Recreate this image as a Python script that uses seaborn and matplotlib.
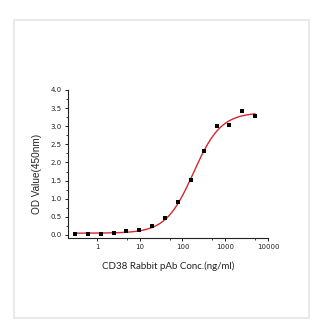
import numpy as np
import pandas as pd
import matplotlib
matplotlib.use("Agg")
import matplotlib.pyplot as plt
import matplotlib.ticker as mticker
from matplotlib.patches import Rectangle
import seaborn as sns

# Data
conc = [0.305, 0.61, 1.22, 2.44, 4.88, 9.77, 19.5, 39.1, 78.1, 156, 312, 625, 1250, 2500, 5000]
od = [0.02, 0.02, 0.03, 0.05, 0.12, 0.15, 0.24, 0.48, 0.90, 1.52, 2.31, 3.00, 3.03, 3.41, 3.27]

# 4-parameter logistic fit parameters (estimated from the fitted curve)
fit_bottom = 0.05
fit_top = 3.38
fit_ec50 = 180.0
fit_hill = 1.35

xticks = [1, 10, 100, 1000, 10000]
xtick_labels = ["1", "10", "100", "1000", "10000"]
yticks = [0.0, 0.5, 1.0, 1.5, 2.0, 2.5, 3.0, 3.5, 4.0]

sns.set_style("ticks")

fig = plt.figure(figsize=(3.34, 3.31), dpi=100)
fig.patch.set_facecolor("white")
fig.patches.append(Rectangle((14 / 334, 1 - 318 / 331), (309 - 14) / 334, (318 - 20) / 331,
                             transform=fig.transFigure, fill=False,
                             edgecolor="#e9e9e9", linewidth=1.5, zorder=0))

ax = fig.add_axes([68 / 334, 1 - 238 / 331, 200 / 334, 148 / 331])

xs = np.logspace(np.log10(0.3), np.log10(5000), 300)
curve = fit_bottom + (fit_top - fit_bottom) * (xs / fit_ec50) ** fit_hill / (1 + (xs / fit_ec50) ** fit_hill)
df_curve = pd.DataFrame({"conc": xs, "od": curve})
df_pts = pd.DataFrame({"conc": conc, "od": od})

sns.lineplot(data=df_curve, x="conc", y="od", color="#d7262e", linewidth=1.0, ax=ax, zorder=2)
sns.scatterplot(data=df_pts, x="conc", y="od", marker="s", color="black", s=11,
                edgecolor="black", linewidth=0, ax=ax, zorder=3)

ax.set_xscale("log")
ax.set_xlim(0.21, 10000)
ax.set_ylim(-0.083, 4.0)
ax.set_xticks(xticks)
ax.set_xticklabels(xtick_labels)
ax.xaxis.set_minor_locator(mticker.FixedLocator([5, 50, 500, 5000]))
ax.xaxis.set_minor_formatter(mticker.NullFormatter())
ax.set_yticks(yticks)
ax.set_yticklabels([f"{v:.1f}" for v in yticks])
ax.yaxis.set_minor_locator(mticker.MultipleLocator(0.25))

for s in ["top", "right"]:
    ax.spines[s].set_visible(False)
for s in ["left", "bottom"]:
    ax.spines[s].set_linewidth(0.8)
    ax.spines[s].set_color("#222222")

ax.tick_params(axis="both", which="major", length=2.5, width=0.7, labelsize=5,
               colors="#222222", pad=2)
ax.tick_params(axis="both", which="minor", length=1.5, width=0.6, colors="#222222")

ax.set_xlabel("CD38 Rabbit pAb Conc.(ng/ml)", fontsize=7, family=["Lato", "DejaVu Sans"],
              color="#222222", labelpad=8)
ax.set_ylabel("OD Value(450nm)", fontsize=7.2, family=["Liberation Sans", "DejaVu Sans"],
              color="#222222")
ax.yaxis.set_label_coords(-0.13, 0.43)

fig.savefig("out.png", dpi=100)
